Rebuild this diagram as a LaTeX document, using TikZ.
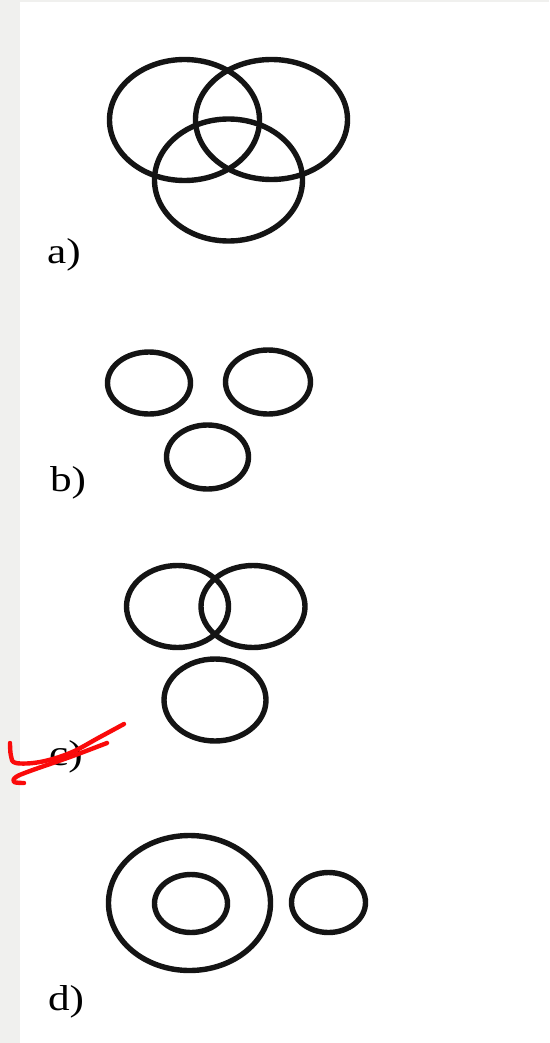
\documentclass[tikz,border=0pt]{standalone}
\usepackage{fontspec}
\setmainfont{Liberation Serif}
\definecolor{stripgray}{RGB}{240,240,238}
\definecolor{penred}{RGB}{250,10,10}

\begin{document}
\begin{tikzpicture}[
		x=1pt, y=-1pt,
		ring/.style={draw=black!92, line width=5.4pt},
		tag/.style={inner sep=0pt, font=\fontsize{36}{36}\selectfont},
		scribble/.style={draw=penred, line width=4.4pt, line cap=round, line join=round}
		]
		\fill[white] (0,0) rectangle (549,1043);
		\useasboundingbox (0,0) rectangle (549,1043);
		\fill[stripgray] (0,0) rectangle (20,1043);
		\fill[stripgray] (0,0) rectangle (549,2);

		\draw[ring] (184.5,120) ellipse [x radius=75, y radius=60.5];
		\draw[ring] (271.5,119.5) ellipse [x radius=76, y radius=60];
		\draw[ring] (228.5,180) ellipse [x radius=74, y radius=61];
		\node[tag] (lbla) at (64,255) {\scalebox{1.2}[1]{a)}};

		\draw[ring] (149,383) ellipse [x radius=41.5, y radius=31];
		\draw[ring] (268,382) ellipse [x radius=42.5, y radius=32];
		\draw[ring] (207.5,457) ellipse [x radius=41, y radius=32];
		\node[tag] (lblb) at (68,483) {\scalebox{1.2}[1]{b)}};

		\draw[ring] (177.5,606.5) ellipse [x radius=51, y radius=41];
		\draw[ring] (253,606.5) ellipse [x radius=52, y radius=41];
		\draw[ring] (215,700) ellipse [x radius=51, y radius=41];
		\node[tag] (lblc) at (66,757) {\scalebox{1.2}[1]{c)}};

		\draw[ring] (189.5,903) ellipse [x radius=81, y radius=67.5];
		\draw[ring] (191,903.5) ellipse [x radius=36.5, y radius=29];
		\draw[ring] (328.5,902.5) ellipse [x radius=37, y radius=30];
		\node[tag] (lbld) at (66,1002) {\scalebox{1.2}[1]{d)}};

		\draw[scribble] plot[smooth, tension=0.6] coordinates {(10,743) (11,756) (16,763) (40,762) (70,753) (100,737) (124,724)};
		\draw[scribble] plot[smooth, tension=0.6] coordinates {(107,743) (70,757) (30,771) (16,777) (14,782) (24,783)};
	\end{tikzpicture}
\end{document}
